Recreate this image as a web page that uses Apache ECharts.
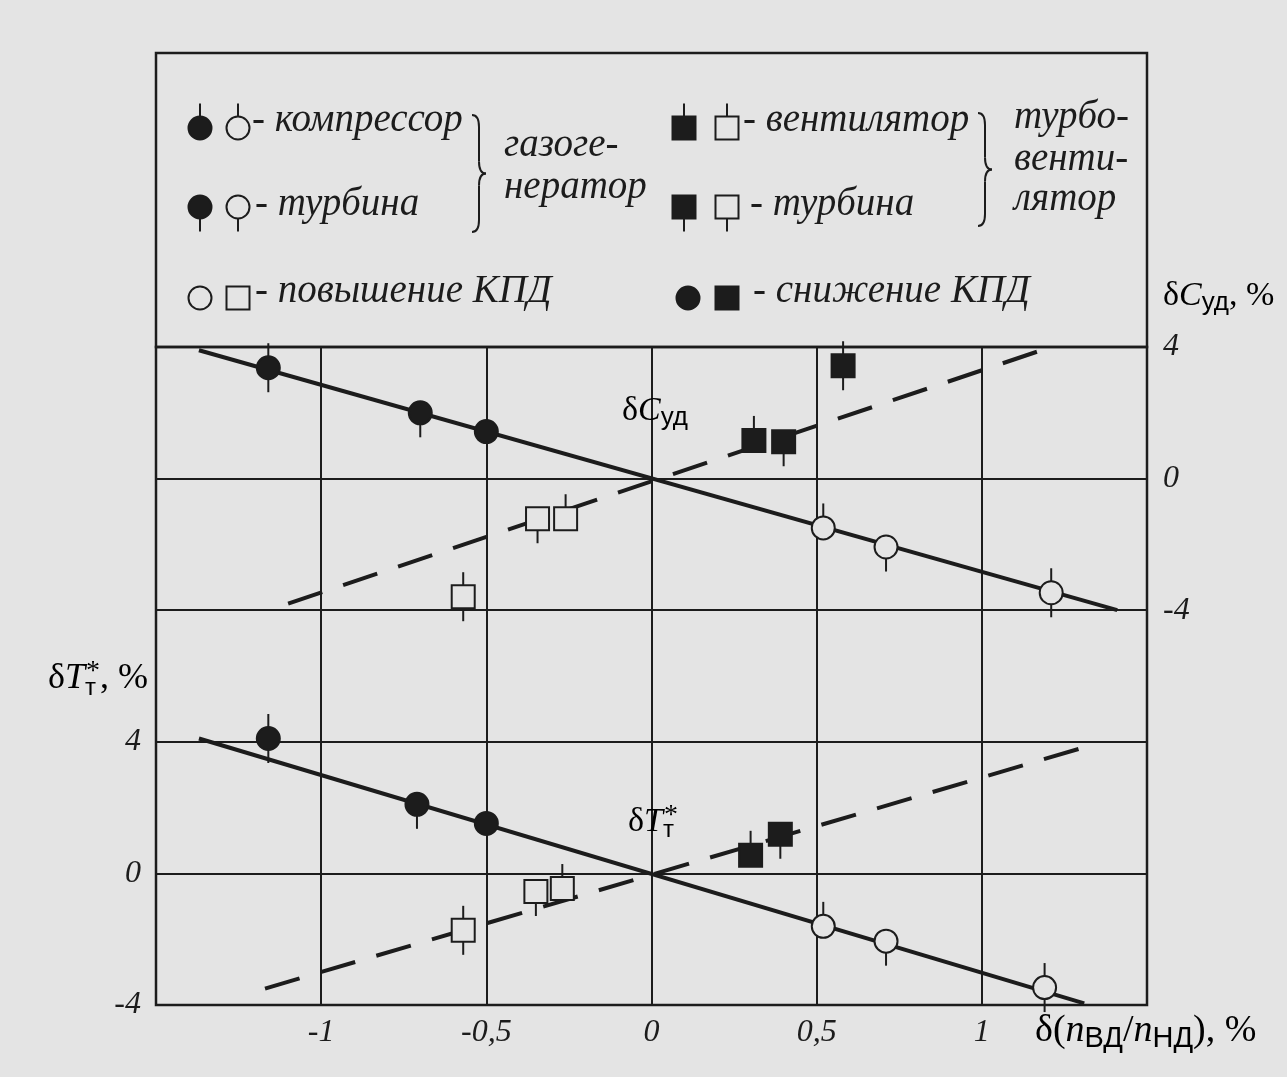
<!DOCTYPE html>
<html><head><meta charset="utf-8">
<script src="https://cdn.jsdelivr.net/npm/echarts@6/dist/echarts.min.js"></script>
<style>html,body{margin:0;padding:0;background:#e4e4e4}#c{width:1287px;height:1077px}</style>
</head><body><div id="c"></div>
<script>
// ---------- DATA ----------
const xTicks = [-1, -0.5, 0, 0.5, 1];
const yTickLabels = [-4, 0, 4];

// Upper panel: δC_уд, %   [x, y, tick]
const cFilledCircles = [[-1.16, 3.37, 'both'], [-0.70, 2.00, 'down'], [-0.50, 1.43, 'none']];
const cOpenCircles   = [[0.52, -1.50, 'up'], [0.71, -2.08, 'down'], [1.21, -3.47, 'both']];
const cFilledSquares = [[0.31, 1.16, 'up'], [0.40, 1.12, 'down'], [0.58, 3.43, 'both']];
const cOpenSquares   = [[-0.57, -3.59, 'both'], [-0.345, -1.22, 'down'], [-0.26, -1.22, 'up']];
const cSolidLine  = [[-1.37, 3.9], [1.41, -4.0]];
const cDashedLine = [[-1.10, -3.8], [1.18, 3.9]];

// Lower panel: δT_т*, %   [x, y, tick]
const tFilledCircles = [[-1.16, 4.10, 'both'], [-0.71, 2.10, 'down'], [-0.50, 1.52, 'none']];
const tOpenCircles   = [[0.52, -1.61, 'up'], [0.71, -2.06, 'down'], [1.19, -3.47, 'both']];
const tFilledSquares = [[0.30, 0.55, 'up'], [0.39, 1.19, 'down']];
const tOpenSquares   = [[-0.57, -1.73, 'both'], [-0.35, -0.55, 'down'], [-0.27, -0.46, 'up']];
const tSolidLine  = [[-1.37, 4.1], [1.31, -3.95]];
const tDashedLine = [[-1.17, -3.5], [1.35, 3.95]];

// ---------- STYLE ----------
const ink = '#1c1c1c';
const bg = '#e4e4e4';
const serif = "'Liberation Serif', 'DejaVu Serif', serif";
const sans = "'Liberation Sans', 'DejaVu Sans', sans-serif";
const R = 11.5, TICK = 13;

function markerEls(shape, filled, tick, cx, cy) {
  const out = [];
  const ls = {stroke: ink, lineWidth: 2};
  if (tick === 'up' || tick === 'both') out.push({type: 'line', shape: {x1: cx, y1: cy - R - TICK, x2: cx, y2: cy}, style: ls});
  if (tick === 'down' || tick === 'both') out.push({type: 'line', shape: {x1: cx, y1: cy, x2: cx, y2: cy + R + TICK}, style: ls});
  const st = {fill: filled ? ink : bg, stroke: ink, lineWidth: 2};
  if (shape === 'circle') out.push({type: 'circle', shape: {cx, cy, r: R}, style: st});
  else out.push({type: 'rect', shape: {x: cx - R, y: cy - R, width: 2 * R, height: 2 * R}, style: st});
  return out;
}

function markerSeries(data, shape, filled, yAxisIndex) {
  return {
    type: 'custom', xAxisIndex: 0, yAxisIndex, z: 10, silent: true,
    data: data.map(d => [d[0], d[1]]),
    renderItem(params, api) {
      const p = api.coord([api.value(0), api.value(1)]);
      return {type: 'group', children: markerEls(shape, filled, data[params.dataIndex][2], p[0], p[1])};
    }
  };
}
function lineSeries(data, yAxisIndex, dashed) {
  return {
    type: 'line', xAxisIndex: 0, yAxisIndex, data, symbol: 'none', silent: true, z: 5,
    lineStyle: {color: ink, width: 4, type: dashed ? [36, 22] : 'solid'}
  };
}

const rich = {
  d: {fontFamily: serif, fontSize: 34, lineHeight: 40, color: ink},
  i: {fontFamily: serif, fontStyle: 'italic', fontSize: 34, lineHeight: 40, color: ink},
  sb: {fontFamily: sans, fontSize: 26, lineHeight: 14, verticalAlign: 'bottom', color: ink},
  sb0: {fontFamily: sans, fontSize: 24, lineHeight: 14, verticalAlign: 'bottom', color: ink, width: 1},
  sp: {fontFamily: serif, fontSize: 28, lineHeight: 12, verticalAlign: 'top', color: ink},
  D: {fontFamily: serif, fontSize: 36, lineHeight: 42, color: ink},
  I: {fontFamily: serif, fontStyle: 'italic', fontSize: 36, lineHeight: 42, color: ink},
  XD: {fontFamily: serif, fontSize: 38, lineHeight: 44, color: ink},
  XI: {fontFamily: serif, fontStyle: 'italic', fontSize: 38, lineHeight: 44, color: ink},
  XS: {fontFamily: sans, fontSize: 29, lineHeight: 14, verticalAlign: 'bottom', color: ink}
};
function richText(text, x, y) {
  return {type: 'text', x, y, z: 20, silent: true,
    style: {text, rich, align: 'left', textAlign: 'left', verticalAlign: 'middle', textVerticalAlign: 'middle'}};
}
function legText(text, x, y) {
  return {type: 'text', x, y, z: 20, silent: true,
    style: {text, fontFamily: serif, fontStyle: 'italic', fontSize: 39, fill: ink,
      align: 'left', textAlign: 'left', verticalAlign: 'middle', textVerticalAlign: 'middle'}};
}
function brace(x0, top, bot, w) {
  const x1 = x0 + w * 0.5, x2 = x0 + w, mid = (top + bot) / 2, h = 12;
  const st = {stroke: ink, lineWidth: 2, fill: 'none'};
  return [
    {type: 'bezierCurve', shape: {x1: x0, y1: top, x2: x1, y2: top + h, cpx1: x1, cpy1: top}, style: st},
    {type: 'line', shape: {x1: x1, y1: top + h, x2: x1, y2: mid - h}, style: st},
    {type: 'bezierCurve', shape: {x1: x1, y1: mid - h, x2: x2, y2: mid, cpx1: x1, cpy1: mid}, style: st},
    {type: 'bezierCurve', shape: {x1: x2, y1: mid, x2: x1, y2: mid + h, cpx1: x1, cpy1: mid}, style: st},
    {type: 'line', shape: {x1: x1, y1: mid + h, x2: x1, y2: bot - h}, style: st},
    {type: 'bezierCurve', shape: {x1: x1, y1: bot - h, x2: x0, y2: bot, cpx1: x1, cpy1: bot}, style: st}
  ];
}

const graphic = [].concat(
  markerEls('circle', true, 'up', 200, 128), markerEls('circle', false, 'up', 238, 128),
  markerEls('rect', true, 'up', 684, 128), markerEls('rect', false, 'up', 727, 128),
  markerEls('circle', true, 'down', 200, 207), markerEls('circle', false, 'down', 238, 207),
  markerEls('rect', true, 'down', 684, 207), markerEls('rect', false, 'down', 727, 207),
  markerEls('circle', false, 'none', 200, 298), markerEls('rect', false, 'none', 238, 298),
  markerEls('circle', true, 'none', 688, 298), markerEls('rect', true, 'none', 727, 298),
  [
    legText('- компрессор', 252, 121), legText('- вентилятор', 743, 121),
    legText('газоге-', 504, 146), legText('нератор', 504, 188),
    legText('турбо-', 1014, 118), legText('венти-', 1014, 160), legText('лятор', 1014, 200),
    legText('- турбина', 255, 205), legText('- турбина', 750, 205),
    legText('- повышение КПД', 255, 292), legText('- снижение КПД', 753, 292),
    richText('{d|δ}{i|C}{sb|уд}{d|, %}', 1163, 296),
    richText('{D|δ}{I|T}{sb0|т}{sp|*}{D|, %}', 48, 679),
    richText('{d|δ}{i|C}{sb|уд}', 622, 411),
    richText('{d|δ}{i|T}{sb0|т}{sp|*}', 628, 822),
    richText('{XD|δ(}{XI|n}{XS|ВД}{XD|/}{XI|n}{XS|НД}{XD|), %}', 1035, 1031)
  ],
  brace(472, 115, 232, 14),
  brace(978, 113, 226, 14)
);

const chart = echarts.init(document.getElementById('c'), null, {renderer: 'canvas'});
chart.setOption({
  animation: false,
  backgroundColor: bg,
  grid: [
    {left: 156, right: 140, top: 347, bottom: 72, show: true, borderColor: ink, borderWidth: 2.5, backgroundColor: 'transparent', outerBoundsMode: 'none', containLabel: false},
    {left: 156, right: 140, top: 53, height: 294, show: true, borderColor: ink, borderWidth: 2.5, backgroundColor: 'transparent', outerBoundsMode: 'none', containLabel: false}
  ],
  xAxis: [
    {type: 'value', gridIndex: 0, min: -1.5, max: 1.5, interval: 0.5,
      axisLine: {show: false}, axisTick: {show: false},
      splitLine: {show: true, lineStyle: {color: ink, width: 2}},
      axisLabel: {margin: 12, color: ink, fontFamily: serif, fontStyle: 'italic', fontSize: 32,
        formatter: v => xTicks.some(t => Math.abs(t - v) < 1e-9) ? String(v).replace('.', ',') : ''}},
    {type: 'value', gridIndex: 1, show: false, min: 0, max: 1}
  ],
  yAxis: [
    {type: 'value', gridIndex: 0, position: 'left', min: -4, max: 16, interval: 4,
      axisLine: {show: false}, axisTick: {show: false},
      splitLine: {show: true, lineStyle: {color: ink, width: 2}},
      axisLabel: {margin: 15, color: ink, fontFamily: serif, fontStyle: 'italic', fontSize: 32,
        formatter: v => yTickLabels.includes(v) ? String(v) : ''}},
    {type: 'value', gridIndex: 0, position: 'right', min: -16, max: 4, interval: 4,
      axisLine: {show: false}, axisTick: {show: false}, splitLine: {show: false},
      axisLabel: {margin: 16, color: ink, fontFamily: serif, fontStyle: 'italic', fontSize: 32,
        formatter: v => yTickLabels.includes(v) ? String(v) : ''}},
    {type: 'value', gridIndex: 1, show: false, min: 0, max: 1}
  ],
  series: [
    lineSeries(cSolidLine, 1, false),
    lineSeries(cDashedLine, 1, true),
    lineSeries(tSolidLine, 0, false),
    lineSeries(tDashedLine, 0, true),
    markerSeries(cFilledCircles, 'circle', true, 1),
    markerSeries(cOpenCircles, 'circle', false, 1),
    markerSeries(cFilledSquares, 'rect', true, 1),
    markerSeries(cOpenSquares, 'rect', false, 1),
    markerSeries(tFilledCircles, 'circle', true, 0),
    markerSeries(tOpenCircles, 'circle', false, 0),
    markerSeries(tFilledSquares, 'rect', true, 0),
    markerSeries(tOpenSquares, 'rect', false, 0)
  ],
  graphic: {elements: graphic}
});
</script>
</body></html>
